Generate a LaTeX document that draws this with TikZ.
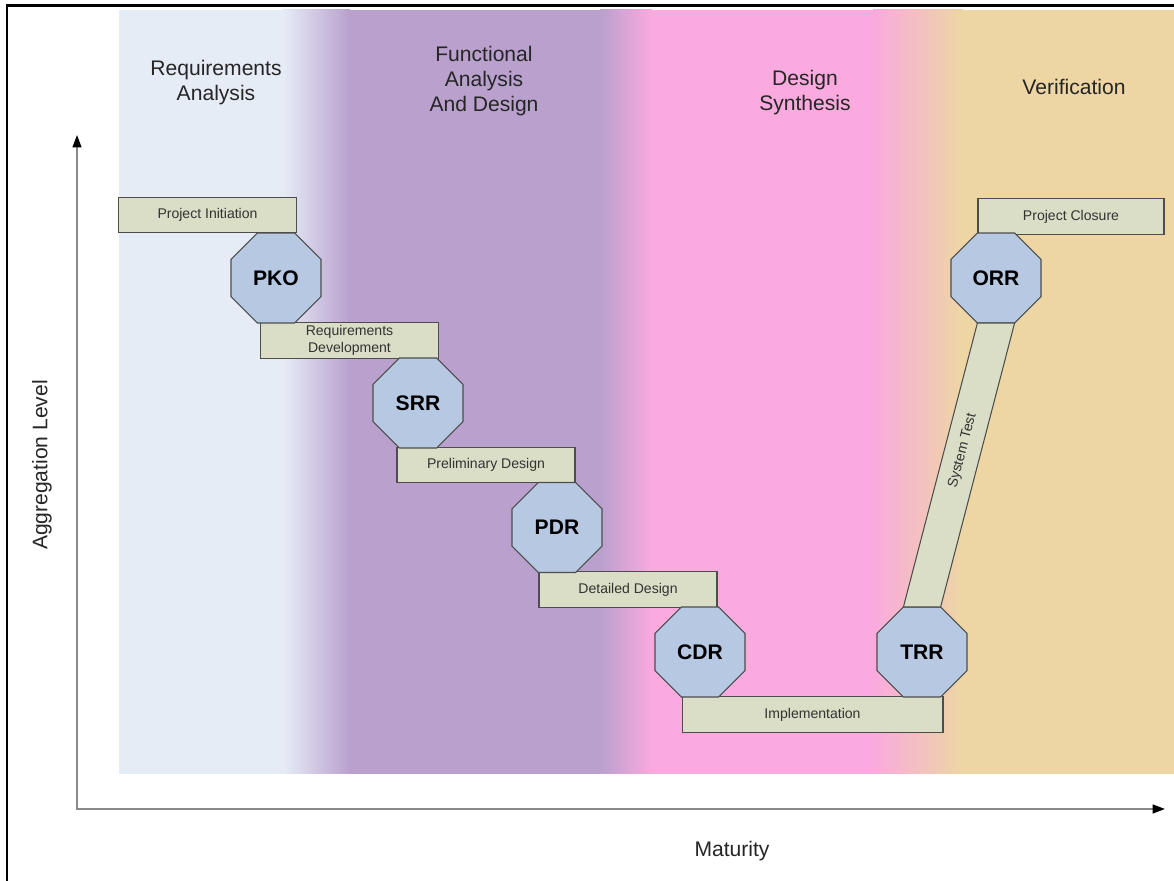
\documentclass[tikz,border=0pt]{standalone}
\usepackage{fontspec}
\setmainfont{Liberation Sans}
\usetikzlibrary{shapes.geometric,arrows.meta,calc}
\definecolor{reqblue}{HTML}{E6ECF6}
\definecolor{funcpurple}{HTML}{B9A0CD}
\definecolor{synpink}{HTML}{FAAADE}
\definecolor{vertan}{HTML}{EDD6A3}
\definecolor{phasebox}{HTML}{DADEC6}
\definecolor{gatefill}{HTML}{B7C9E2}
\definecolor{edgegray}{HTML}{4D4D4D}
\definecolor{axisgray}{HTML}{8A8A8A}
\tikzset{axistip/.tip={Triangle[length=7pt,width=5pt,color=black]}}
\begin{document}
\begin{tikzpicture}[x=0.02cm,y=-0.02cm,
  phase/.style={draw=edgegray, fill=phasebox, line width=0.6pt,
    minimum width=3.56cm, minimum height=0.71cm, inner sep=0pt, outer sep=0pt,
    font=\fontsize{8}{9.6}\selectfont, text=black!80, align=center},
  gate/.style={regular polygon, regular polygon sides=8, draw=edgegray,
    fill=gatefill, line width=0.6pt, minimum size=1.948cm, inner sep=0pt,
    outer sep=0pt, font=\fontsize{12}{14}\selectfont\bfseries},
  stage/.style={font=\fontsize{12}{14.2}\selectfont, text=black!85, align=center},
  axislabel/.style={font=\fontsize{12}{14}\selectfont, text=black!85}]
\useasboundingbox (0,0) rectangle (1174,881);
\fill[white] (0,0) rectangle (1174,881);

% process stage bands
\fill[reqblue] (119,10) rectangle (284,774);
\shade[left color=reqblue, right color=funcpurple] (283,10) rectangle (350,774);
\fill[funcpurple] (349,10) rectangle (601,774);
\shade[left color=funcpurple, right color=synpink] (600,10) rectangle (652,774);
\fill[synpink] (651,10) rectangle (874,774);
\shade[left color=synpink, right color=vertan] (873,10) rectangle (963,774);
\fill[vertan] (962,10) rectangle (1174,774);

% frame
\draw[line width=1.7pt] (7,881) -- (7,6) -- (1174,6);

% axes
\coordinate (ytop) at (77,135);
\coordinate (origin) at (77,809);
\coordinate (xend) at (1165,809);
\draw[axisgray, line width=0.9pt, axistip-axistip] (ytop) -- (origin) -- (xend);
\node[axislabel, rotate=90] (agg) at (42,465) {Aggregation Level};
\node[axislabel] (mat) at (732,851) {Maturity};

% stage titles
\node[stage] (reqT) at (216,82.5) {Requirements\\Analysis};
\node[stage] (funT) at (484,81) {Functional\\Analysis\\And Design};
\node[stage] (synT) at (805,92.5) {Design\\Synthesis};
\node[stage] (verT) at (1074,87) {Verification};

% activities
\node[phase] (init) at (207.5,215) {Project Initiation};
\node[phase] (reqdev) at (349.5,340.5) {Requirements\\Development};
\node[phase] (prelim) at (486,465) {Preliminary Design};
\node[phase] (detail) at (628,589.5) {Detailed Design};
\node[phase, minimum width=5.22cm] (impl) at (812.5,714.5) {Implementation};
\node[phase, minimum width=3.72cm] (close) at (1071,216.5) {Project Closure};

% review gates
\node[gate] (pko) at (276,278) {PKO};
\node[gate] (srr) at (418,403) {SRR};
\node[gate] (pdr) at (557,527.5) {PDR};
\node[gate] (cdr) at (700,652) {CDR};
\node[gate] (trr) at (922,652) {TRR};
\node[gate] (orr) at (996,278) {ORR};

% system test leg between TRR and ORR
\coordinate (orrL) at ($(orr.south)+(-18.6,0)$);
\coordinate (orrR) at ($(orr.south)+(18.6,0)$);
\coordinate (trrL) at ($(trr.north)+(-18.6,0)$);
\coordinate (trrR) at ($(trr.north)+(18.6,0)$);
\draw[draw=edgegray, fill=phasebox, line width=0.6pt]
  (orrL) -- (orrR) -- (trrR) -- (trrL) -- cycle;
\node[rotate=75.3, inner sep=0pt, font=\fontsize{8}{9.6}\selectfont, text=black!80] (systest)
  at ($(orr.south)!0.45!(trr.north)$) {System Test};
\end{tikzpicture}
\end{document}
